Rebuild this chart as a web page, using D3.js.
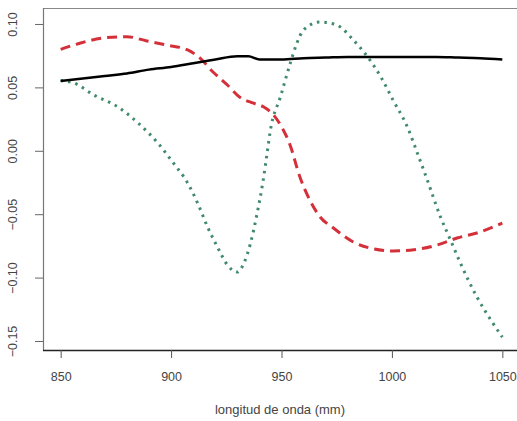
<!DOCTYPE html>
<html>
<head>
<meta charset="utf-8">
<script src="https://cdn.jsdelivr.net/npm/d3@7/dist/d3.min.js"></script>
<style>
  html, body { margin: 0; padding: 0; background: #fff; }
  svg { display: block; }
  text { font-family: "Liberation Sans", Arial, sans-serif; fill: #444; }
</style>
</head>
<body>
<svg id="chart" width="517" height="421"></svg>
<script>
// Spectral curves: wavelength (nm) and value for each component
const blackX = [850, 860, 870, 880, 890, 900, 910, 920, 930, 935, 940, 950, 960, 970, 980, 990, 1000, 1010, 1020, 1030, 1040, 1050];
const blackY = [0.055, 0.057, 0.059, 0.061, 0.064, 0.066, 0.069, 0.072, 0.0745, 0.0745, 0.072, 0.072, 0.073, 0.0735, 0.074, 0.074, 0.074, 0.074, 0.074, 0.0735, 0.073, 0.072];

const redX = [850, 859, 869.5, 880, 889, 898, 907.5, 913, 919, 925.5, 931, 937, 942, 946, 950, 954, 958, 962, 967.5, 973.5, 982.5, 990, 1000.5, 1010, 1020.5, 1029.5, 1038.5, 1050];
const redY = [0.080, 0.085, 0.089, 0.090, 0.0866, 0.0834, 0.0795, 0.0732, 0.0621, 0.0519, 0.0424, 0.0377, 0.0345, 0.029, 0.019, 0.004, -0.019, -0.036, -0.0522, -0.0609, -0.0719, -0.0767, -0.079, -0.078, -0.0743, -0.0688, -0.0648, -0.057];

const greenX = [850, 856, 865, 876, 885, 894, 901, 907.5, 912, 916.5, 921, 925.5, 930, 933, 936, 939, 941.5, 943.5, 945, 949.5, 954, 957, 960, 967.5, 975, 982.5, 989, 995, 1000.5, 1007, 1011.5, 1016, 1022, 1026.5, 1031, 1038.5, 1045, 1050];
const greenY = [0.0555, 0.0535, 0.044, 0.0345, 0.022, 0.0061, -0.0096, -0.0254, -0.0412, -0.060, -0.0759, -0.090, -0.0956, -0.0885, -0.0727, -0.049, -0.0254, -0.0017, 0.0164, 0.0424, 0.0692, 0.085, 0.0953, 0.1016, 0.0992, 0.0874, 0.074, 0.0582, 0.040, 0.0188, -0.0017, -0.023, -0.0522, -0.0703, -0.0885, -0.1153, -0.134, -0.147];

const xTicks = [850, 900, 950, 1000, 1050];
const yTicks = [0.10, 0.05, 0.00, -0.05, -0.10, -0.15];
const xTitle = "longitud de onda (mm)";

const svg = d3.select("#chart");
const plot = { left: 43, top: 8, right: 520, bottom: 350 };

const x = d3.scaleLinear().domain([842, 1058]).range([plot.left, plot.right]);
const y = d3.scaleLinear().domain([-0.1571, 0.1126]).range([plot.bottom, plot.top]);

// frame: top and left in grey, bottom in dark
svg.append("line").attr("x1", plot.left).attr("x2", 517).attr("y1", plot.top + 0.5).attr("y2", plot.top + 0.5)
  .attr("stroke", "#888").attr("stroke-width", 1.2);
svg.append("line").attr("x1", plot.left + 0.5).attr("x2", plot.left + 0.5).attr("y1", plot.top).attr("y2", plot.bottom)
  .attr("stroke", "#777").attr("stroke-width", 1.2);
svg.append("line").attr("x1", plot.left).attr("x2", 517).attr("y1", plot.bottom + 0.5).attr("y2", plot.bottom + 0.5)
  .attr("stroke", "#222").attr("stroke-width", 1.6);

// y axis (labels rotated, as in base R graphics)
const yAxis = svg.append("g").attr("transform", `translate(${plot.left},0)`)
  .call(d3.axisLeft(y).tickValues(yTicks).tickSize(8).tickFormat(d3.format(".2f")));
yAxis.select(".domain").remove();
yAxis.selectAll(".tick line").attr("stroke", "#666");
yAxis.selectAll(".tick text")
  .attr("x", 0).attr("dy", 0)
  .attr("transform", "translate(-26,0) rotate(-90)")
  .attr("text-anchor", "middle")
  .attr("font-size", 12.5).attr("fill", "#555");

// x axis
const xAxis = svg.append("g").attr("transform", `translate(0,${plot.bottom})`)
  .call(d3.axisBottom(x).tickValues(xTicks).tickSize(8).tickFormat(d3.format("d")));
xAxis.select(".domain").remove();
xAxis.selectAll(".tick line").attr("stroke", "#555");
xAxis.selectAll(".tick text").attr("y", 22).attr("font-size", 12.5).attr("fill", "#555");

svg.append("text").attr("x", 280).attr("y", 414).attr("text-anchor", "middle")
  .attr("font-size", 13).attr("fill", "#444").text(xTitle);

// curves
const line = d3.line().x(d => x(d[0])).y(d => y(d[1])).curve(d3.curveMonotoneX);
const g = svg.append("g");

g.append("path").datum(d3.zip(greenX, greenY)).attr("d", line)
  .attr("fill", "none").attr("stroke", "#3f8a6a").attr("stroke-width", 3)
  .attr("stroke-dasharray", "2.5,5").attr("stroke-linecap", "butt");

g.append("path").datum(d3.zip(redX, redY)).attr("d", line)
  .attr("fill", "none").attr("stroke", "#d4303a").attr("stroke-width", 3)
  .attr("stroke-dasharray", "10,6");

g.append("path").datum(d3.zip(blackX, blackY)).attr("d", line)
  .attr("fill", "none").attr("stroke", "#000").attr("stroke-width", 2.5);
</script>
</body>
</html>
